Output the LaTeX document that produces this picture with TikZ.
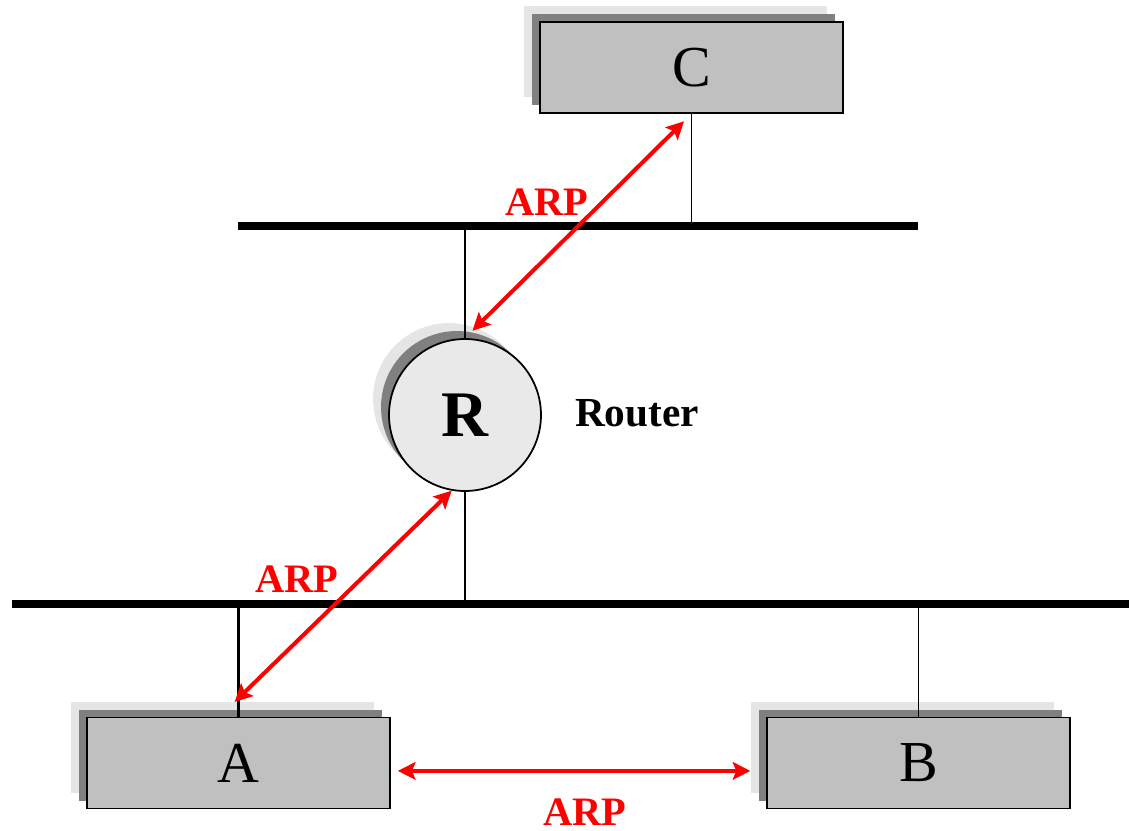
\documentclass[tikz,border=0pt]{standalone}
\usepackage{fontspec}
\setmainfont{Liberation Serif}
\usetikzlibrary{arrows.meta, positioning, calc, shadows}
\definecolor{hostgray}{HTML}{C0C0C0}
\definecolor{shadedark}{HTML}{808080}
\definecolor{shadelight}{HTML}{E5E5E5}
\definecolor{routerfill}{HTML}{E9E9E9}
\definecolor{arpred}{HTML}{FF0000}
\tikzset{
  >={Stealth[length=10pt, width=10pt, inset=2pt]},
  %
  stacked/.style={
    copy shadow={shadow xshift=-9.07pt, shadow yshift=9.07pt, fill=shadelight, draw=none},
    copy shadow={shadow xshift=-4.54pt, shadow yshift=4.54pt, fill=shadedark, draw=none},
  },
  host/.style={
    stacked, draw=black, line width=1pt, fill=hostgray, inner sep=0pt,
    minimum width=6.06cm, minimum height=1.82cm,
    font=\fontsize{33}{36}\selectfont,
  },
  router/.style={
    stacked, circle, draw=black, line width=1pt, fill=routerfill, inner sep=0pt,
    minimum size=3.04cm, font=\fontsize{37}{40}\selectfont\bfseries,
  },
  %
  bus/.style={draw=black, line width=4pt},
  drop/.style={draw=black, line width=0.85pt},
  dropthick/.style={draw=black, line width=1.5pt},
  arp/.style={draw=arpred, line width=2.3pt, <->},
  %
  arplbl/.style={text=arpred, font=\fontsize{23}{26}\selectfont\bfseries, inner sep=0pt},
  lbl/.style={text=black, font=\fontsize{23.5}{26}\selectfont\bfseries, inner sep=0pt},
}
\begin{document}
\begin{tikzpicture}[x=0.02cm, y=-0.02cm]

  \useasboundingbox (0,0) rectangle (1129,831);

  % networks
  \coordinate (topL) at (238,226);
  \coordinate (topR) at (918,226);
  \coordinate (botL) at (12,604);
  \coordinate (botR) at (1129,604);

  \node[host] (C) at (691.5,67.5) {C};
  \node[router] (R) at (465,415) {R};
  \node[lbl] (rlbl) at (637,413) {Router};
  \node[host] (A) at (238.5,763) {A};
  \node[host] (B) at (918.5,763) {B};

  \draw[bus] (topL) -- (topR);
  \draw[bus] (botL) -- (botR);

  \draw[drop] (C.south) -- (C.south |- topL);
  \draw[drop] (R.north) -- (R.north |- topL);
  \draw[drop] (R.south) -- (R.south |- botL);
  \draw[dropthick] (A.north) -- (A.north |- botL);
  \draw[drop] (B.north) -- (B.north |- botL);

  % ARP exchanges
  \draw[arp, shorten <=6pt, shorten >=6pt] (C.south) -- (R.north);
  \draw[arp, shorten >=12pt] (R.260) -- ([xshift=-10.8pt]A.north);
  \draw[arp, shorten <=4pt, shorten >=9pt] ([yshift=-4.5pt]A.east) -- ([yshift=-4.5pt]B.west);

  \node[arplbl] (arp1) at (547,202) {ARP};
  \node[arplbl] (arp2) at (297,579) {ARP};
  \node[arplbl] (arp3) at (585,812) {ARP};

\end{tikzpicture}
\end{document}
